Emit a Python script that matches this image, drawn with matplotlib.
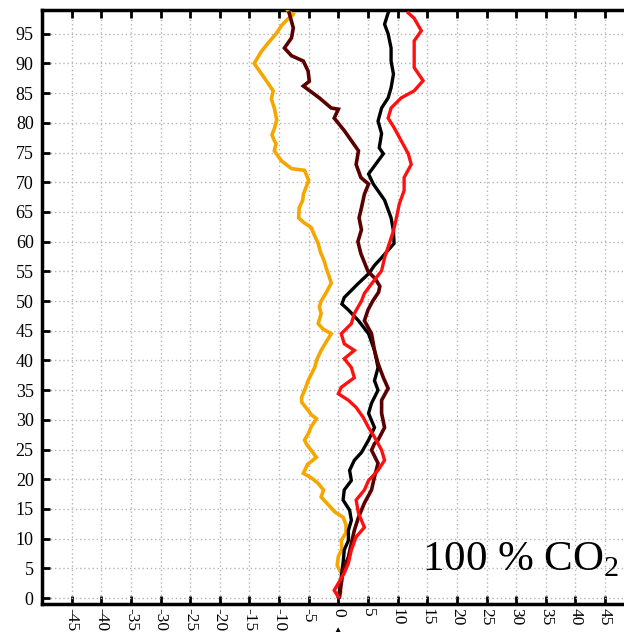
import matplotlib
matplotlib.use('Agg')
import matplotlib.pyplot as plt
import numpy as np

# trajectories (x, y), bottom to top
orange_x = [0.1, 0.4, 0.2, 0.6, 0.5, -0.2, 0, 0.6, 0.5, 1.3, 1.3, 0.8, -0.6, -1.5, -2.9, -2.5, -3.4, -4.5,
            -5.9, -5.2, -3.7, -4.6, -5.3, -5.7, -5.0, -4.6, -3.7, -4.6, -5.1, -6.2, -6.2, -5.6, -5.1, -4.0,
            -3.6, -2.9, -2.0, -1.2, -2.6, -3.4, -2.9, -3.2, -2.9, -2.0, -1.2, -1.5, -2.0, -2.4, -3.0, -3.4,
            -4.0, -4.6, -5.8, -6.7, -6.6, -6.0, -5.9, -5.0, -5.7, -7.9, -9.6, -10.8, -10.5, -10.8, -11.2,
            -10.8, -10.4, -10.8, -11.3, -11.0, -12.5, -13.5, -14.2, -13.6, -13.0, -11.8, -10.5, -9.5, -8.5,
            -7.9, -8.3, -7.6]
orange_y = [0.2, 1.0, 1.8, 3.0, 4.2, 5.5, 7, 8.2, 9.7, 11, 12.3, 13.6, 14.5, 15.5, 17, 18.2, 19.3, 20.2,
            21, 22.5, 23.7, 24.9, 25.8, 26.6, 27.8, 28.8, 30.2, 30.9, 31.6, 33.0, 33.8, 35.2, 36.6, 38.8,
            40.2, 41.7, 43.2, 44.5, 45.3, 46.2, 47.9, 49, 50, 51.5, 53, 54, 55.4, 56.8, 58.2, 59.7,
            61, 62.4, 63.2, 64, 65.7, 67, 68, 70.3, 72, 72.3, 73.6, 75.3, 76.5, 77, 78,
            79, 80.5, 82.5, 84, 85.4, 87.6, 89, 90, 91, 92, 93.5, 95, 96.5, 97.5,
            98, 98.6, 98.3]

maroon_x = [0.2, 0.5, 0.8, 1.7, 2.2, 2.7, 3.4, 4.4, 5.6, 6.1, 6.7, 5.6, 6.1, 6.7, 7.8, 7.3, 7.3, 8.4,
            7.6, 6.7, 6.1, 5.6, 4.4, 5.0, 5.8, 6.8, 7.0, 6.2, 5.0, 4.4, 3.8, 3.3, 3.9, 3.5, 3.9, 4.4,
            5.1, 3.8, 3.0, 3.4, 2.2, 1.0, -0.7, 0, -1.2, -3.2, -5.9, -4.9, -5.1, -5.9, -7.9, -9.1,
            -7.9, -7.6, -8.3]
maroon_y = [0.2, 2.5, 4.7, 6.9, 9.2, 11.4, 13.6, 16, 18.2, 20.4, 22.7, 24.9, 26, 26.6, 28.7, 31.1, 33.3, 35.3,
            37.1, 39.5, 41.7, 44.5, 46.7, 48.5, 50, 51.5, 52.5, 53.8, 55, 56.5, 58, 60, 62, 64, 65.7, 68,
            69.7, 70.8, 73, 75.3, 77, 78.7, 80.8, 82.3, 82.5, 84.2, 86.2, 87, 88.7, 90.4, 91.3, 92.6,
            94.3, 96, 98.5]

black_x = [0, 0.2, 0.5, 0.8, 1.0, 1.7, 1.7, 2.2, 1.9, 0.8, 1.0, 2.2, 1.9, 2.7, 3.9, 5.1, 6.1, 5.1, 5.6,
           6.7, 6.1, 6.7, 6.1, 5.1, 3.4, 1.7, 0.6, 1.0, 2.2, 3.4, 5.1, 6.1, 7.3, 9.4, 9.3, 8.9, 7.8, 5.9,
           5.1, 7.6, 6.9, 7.3, 6.7, 7.3, 8.4, 8.9, 9.3, 8.9, 8.9, 8.4, 7.8, 8.4, 8.6]
black_y = [0.2, 1.3, 3.5, 5.9, 8.1, 9.7, 11.4, 13.1, 14.8, 16.5, 18.2, 19.8, 21.5, 23.2, 24.5, 26.6, 28.7, 31.1, 32.8,
           35, 36.6, 38.8, 41.7, 44.5, 46.7, 48.5, 49.5, 50.6, 51.8, 53, 54.6, 56, 57.3, 59.7, 61.8, 64, 67, 69.7,
           71.4, 74.8, 75.8, 78.2, 80.3, 82.5, 84.2, 85.9, 88.2, 90.4, 92.6, 95, 96.6, 98.5, 99]

red_x = [0, -0.7, 0, 1.0, 1.7, 2.2, 3.0, 4.4, 3.4, 3.0, 4.4, 5.1, 6.7, 7.8, 7.3, 6.1, 5.1, 4.2, 3.0, 1.7,
         0, 0.5, 2.7, 2.2, 1.0, 2.7, 1.0, 0.5, 2.2, 2.7, 3.9, 4.4, 5.6, 7.3, 7.8, 8.6, 9.3, 9.8, 10.3,
         11.1, 11.1, 12.3, 11.8, 10.6, 9.4, 8.4, 8.9, 10.6, 12.8, 14.3, 12.8, 12.8, 12.8, 14.0, 12.8, 11.8]
red_y = [0.2, 1.3, 2.5, 4.2, 5.9, 8.1, 10.3, 11.9, 14.3, 16.5, 18.2, 19.8, 21.5, 23.2, 24.9, 27.1, 28.7, 30.4, 32.1, 33.3,
         34.4, 35.5, 37.1, 38.8, 40.3, 41.7, 42.8, 44.5, 46.2, 47.9, 50, 51.3, 52.9, 55.1, 57.3, 59.7, 61.8, 64, 66.4,
         68.6, 70.8, 73, 74.8, 77, 79.2, 80.8, 82.5, 84.2, 85.4, 87.1, 89.3, 91.6, 93.8, 95.5, 97.6, 98.5]

x_ticks = list(range(-45, 50, 5))
y_ticks = list(range(0, 100, 5))

plt.rcParams['font.family'] = ['Liberation Serif', 'DejaVu Serif']
plt.rcParams['mathtext.fontset'] = 'custom'
plt.rcParams['mathtext.rm'] = 'Liberation Serif'

fig = plt.figure(figsize=(6.24, 6.35), dpi=100)
ax = fig.add_axes([42 / 624, 31 / 635, 1 - 42 / 624, 594 / 635])

# 궤적 그리기
ax.plot(orange_x, orange_y, color='#f5a700', lw=2.6, zorder=3, solid_joinstyle='miter')
ax.plot(black_x, black_y, color='black', lw=2.4, zorder=4, solid_joinstyle='miter')
ax.plot(maroon_x, maroon_y, color='#5a0000', lw=2.6, zorder=4, solid_joinstyle='miter')
ax.plot(red_x, red_y, color='#ff1010', lw=2.4, zorder=5, solid_joinstyle='miter')

ax.set_xlim(-50, 48.2)
ax.set_ylim(-1, 99)
ax.set_xticks(x_ticks)
ax.set_yticks(y_ticks)
ax.set_xticklabels([str(v) for v in x_ticks], rotation=-90, fontsize=12.5)
ax.set_yticklabels([str(v) for v in y_ticks], fontsize=13)
ax.tick_params(direction='in', length=6, width=2, top=True, right=False, pad=6)
ax.tick_params(axis='x', pad=3)

ax.grid(True, color='#b5b5b5', linestyle=(0, (1, 2)), linewidth=1)
ax.set_axisbelow(True)
ax.spines['right'].set_visible(False)
for s in ['left', 'bottom', 'top']:
    ax.spines[s].set_linewidth(2.5)

ax.text(47.5, 6.5, r'100 % CO$_{\mathregular{2}}$', fontsize=31, ha='right', va='center')
fig.text(337 / 624, 0.001, '▲', fontsize=6, ha='center', va='bottom')

fig.savefig('out.png', dpi=100)
